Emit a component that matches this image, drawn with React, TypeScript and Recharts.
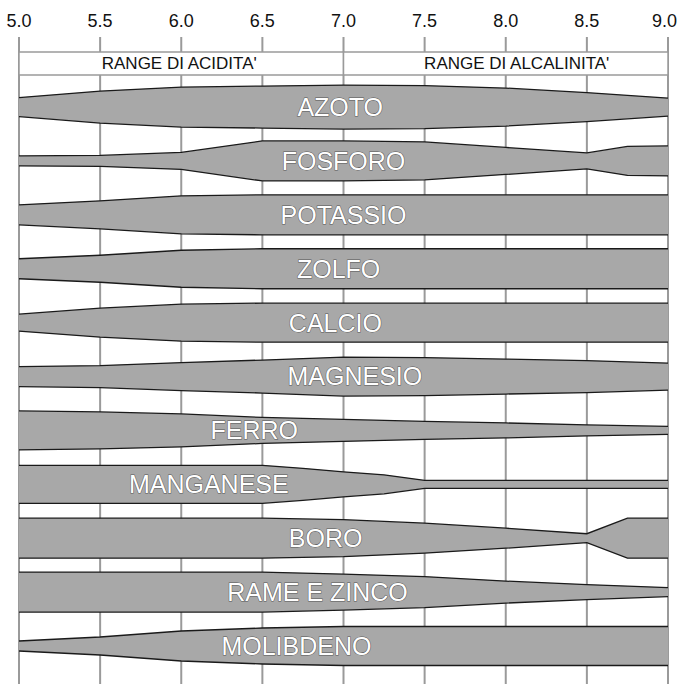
import {
  AreaChart,
  Area,
  XAxis,
  YAxis,
  CartesianGrid,
  ReferenceArea,
  ReferenceDot,
} from "recharts";

const FONT = "'Liberation Sans', Arial, sans-serif";

// pH scale
const PH_TICKS = [5, 5.5, 6, 6.5, 7, 7.5, 8, 8.5, 9];
const PH_STEPS = [5, 5.25, 5.5, 5.75, 6, 6.25, 6.5, 6.75, 7, 7.25, 7.5, 7.75, 8, 8.25, 8.5, 8.75, 9];

// availability (0-10 scale) read at given pH values
const azoto = [[5, 4.75], [5.5, 8], [6, 10], [6.5, 10.5], [7, 11], [7.5, 10.75], [8, 9.5], [8.5, 7.25], [9, 4.5]];
const fosforo = [[5, 2.5], [5.5, 2.75], [6, 4.25], [6.5, 10], [7, 10], [7.5, 9.5], [8, 6.75], [8.5, 4], [8.75, 7.25], [9, 7.5]];
const potassio = [[5, 5], [5.5, 7], [6, 9.5], [6.5, 10], [7, 10], [7.5, 10], [8, 10], [8.5, 10], [9, 10]];
const zolfo = [[5, 5], [5.5, 6.75], [6, 9.25], [6.5, 10], [7, 10], [7.5, 10], [8, 10], [8.5, 10], [9, 10]];
const calcio = [[5, 4.25], [5.5, 7.25], [6, 9.25], [6.5, 9.75], [7, 9.75], [7.5, 9.75], [8, 9.75], [8.5, 9.75], [9, 9.75]];
const magnesio = [[5, 5], [5.5, 5.5], [6, 7], [6.5, 8.25], [7, 9.75], [7.5, 9.5], [8, 8.75], [8.5, 8], [9, 6.75]];
const ferro = [[5, 9.75], [5.5, 9.25], [6, 8.25], [6.5, 6.5], [7, 5.5], [7.5, 4.5], [8, 3.75], [8.5, 2.75], [9, 2]];
const manganese = [[5, 9.5], [5.5, 9.5], [6, 9.5], [6.5, 9.5], [6.75, 8], [7, 6.25], [7.25, 4.75], [7.5, 2], [8, 2], [8.5, 2], [9, 2]];
const boro = [[5, 10], [5.5, 10], [6, 10], [6.5, 10], [7, 9.25], [7.5, 7.5], [8, 5], [8.5, 2.25], [8.75, 10], [9, 10]];
const rameZinco = [[5, 10], [5.5, 10], [6, 10], [6.5, 10], [7, 9], [7.5, 7.75], [8, 5.5], [8.5, 3.75], [9, 2.25]];
const molibdeno = [[5, 2.5], [5.5, 4.5], [6, 7.5], [6.5, 9], [7, 9.75], [7.5, 9.75], [8, 9.75], [8.5, 9.75], [9, 9.75]];

const NAMES = ["AZOTO", "FOSFORO", "POTASSIO", "ZOLFO", "CALCIO", "MAGNESIO", "FERRO", "MANGANESE", "BORO", "RAME E ZINCO", "MOLIBDENO"];
const SERIES = [azoto, fosforo, potassio, zolfo, calcio, magnesio, ferro, manganese, boro, rameZinco, molibdeno];
// pH where each name sits
const LABEL_PH = [6.98, 7.0, 7.0, 6.97, 6.95, 7.07, 6.45, 6.17, 6.89, 6.84, 6.71];

// half band thickness per availability unit, in row units
const K = 0.0371;

const tableData = PH_STEPS.map((ph) => {
  const row: Record<string, number | null> = { ph };
  SERIES.forEach((pts, i) => {
    const p = pts.find((q) => q[0] === ph);
    row["s" + i] = p ? p[1] : null;
  });
  return row;
});

const bandKey = (i: number) => (d: Record<string, number | null>) => {
  const v = d["s" + i];
  if (v == null) return null;
  return [i - v * K, i + v * K];
};

const headerLabel = (text: string, dx: number) => (props: any) => {
  const vb = props.viewBox;
  return (
    <text
      x={vb.x + vb.width / 2 + dx}
      y={vb.y + vb.height / 2}
      textAnchor="middle"
      dominantBaseline="central"
      fontFamily={FONT}
      fontSize={17}
      fill="#111"
    >
      {text}
    </text>
  );
};

const PhTick = (props: any) => {
  const { x, y, payload } = props;
  const last = payload.value === PH_TICKS[PH_TICKS.length - 1];
  return (
    <text
      x={last ? x + 9 : x}
      y={y}
      textAnchor={last ? "end" : "middle"}
      fontFamily={FONT}
      fontSize={18}
      fill="#111"
    >
      {Number(payload.value).toFixed(1)}
    </text>
  );
};

export default function App() {
  return (
    <div style={{ position: "absolute", left: 0, top: 0, background: "#fff" }}>
      <AreaChart
        width={679}
        height={684}
        data={tableData}
        margin={{ top: 0, right: 11, bottom: 0, left: 19 }}
      >
        <CartesianGrid vertical horizontal={false} stroke="#9a9a9a" strokeWidth={2} />
        <XAxis
          type="number"
          dataKey="ph"
          domain={[5, 9]}
          ticks={PH_TICKS}
          interval={0}
          orientation="top"
          height={37}
          axisLine={false}
          tickLine={false}
          tickSize={0}
          tickMargin={10}
          tick={<PhTick />}
        />
        <YAxis type="number" domain={[-1.3, 10.705]} reversed hide allowDataOverflow />
        <ReferenceArea
          x1={5}
          x2={7}
          y1={-1.022}
          y2={-0.595}
          fill="#fff"
          fillOpacity={1}
          stroke="#9a9a9a"
          strokeWidth={1.5}
          label={headerLabel("RANGE DI ACIDITA'", -2)}
        />
        <ReferenceArea
          x1={7}
          x2={9}
          y1={-1.022}
          y2={-0.595}
          fill="#fff"
          fillOpacity={1}
          stroke="#9a9a9a"
          strokeWidth={1.5}
          label={headerLabel("RANGE DI ALCALINITA'", 11)}
        />
        {SERIES.map((_, i) => (
          <Area
            key={NAMES[i]}
            type="linear"
            dataKey={bandKey(i)}
            connectNulls
            fill="#a8a8a8"
            fillOpacity={1}
            stroke="#1a1a1a"
            strokeWidth={1.3}
            dot={false}
            activeDot={false}
            isAnimationActive={false}
          />
        ))}
        {NAMES.map((name, i) => (
          <ReferenceDot
            key={"l" + name}
            x={LABEL_PH[i]}
            y={i}
            r={0}
            fill="none"
            stroke="none"
            label={{
              value: name,
              position: "center",
              fontSize: 25,
              fontFamily: FONT,
              fill: "#fff",
              stroke: "#555",
              strokeWidth: 1,
              paintOrder: "stroke",
            }}
          />
        ))}
      </AreaChart>
    </div>
  );
}
